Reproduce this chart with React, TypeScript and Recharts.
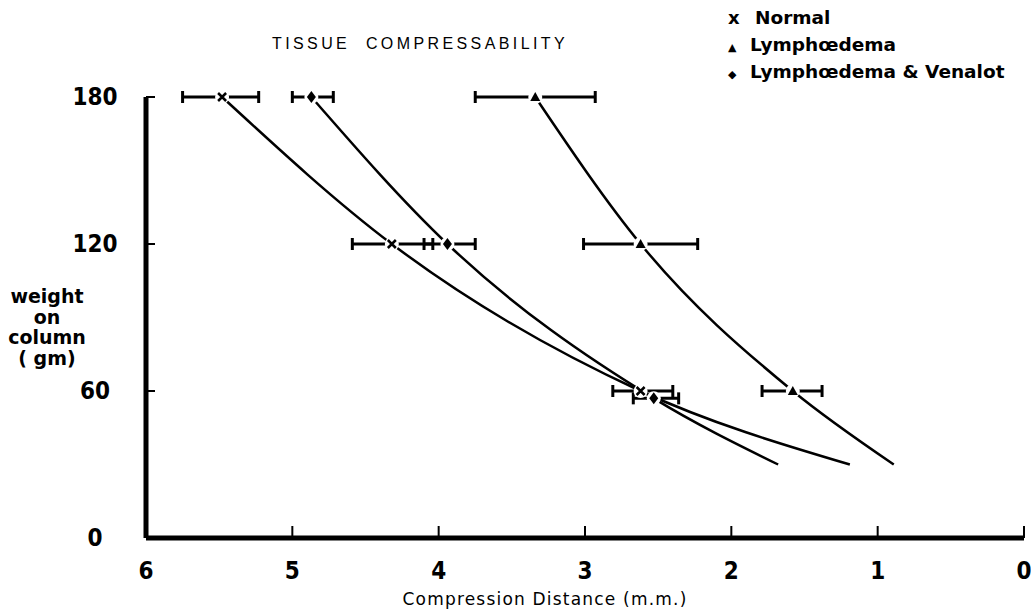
import React from 'react';
import { ComposedChart, Line, Scatter, XAxis, YAxis, ErrorBar } from 'recharts';

// weight on column (gm) for each reading
const weights = [180, 120, 60];
const venalotWeights = [180, 120, 57];

// compression distance (mm) and error bar extents [towards 0, towards 6]
const normalDist = [5.48, 4.32, 2.62];
const normalErr = [[0.25, 0.27], [0.28, 0.27], [0.22, 0.19]];
const lymphDist = [3.34, 2.62, 1.58];
const lymphErr = [[0.41, 0.41], [0.39, 0.39], [0.2, 0.21]];
const venalotDist = [4.87, 3.94, 2.53];
const venalotErr = [[0.15, 0.13], [0.19, 0.16], [0.17, 0.14]];

// where each fitted curve runs out below the last reading
const tailWeight = 30;
const normalTail = 1.19;
const lymphTail = 0.89;
const venalotTail = 1.68;

const xTicks = [6, 5, 4, 3, 2, 1, 0];
const yTicks = [0, 60, 120, 180];

const toPoints = (ds: number[], ws: number[], errs: number[][]) =>
  ds.map((d, i) => ({ d, w: ws[i], err: errs[i] }));

const normalPts = toPoints(normalDist, weights, normalErr);
const lymphPts = toPoints(lymphDist, weights, lymphErr);
const venalotPts = toPoints(venalotDist, venalotWeights, venalotErr);

const normalCurve = [...normalPts, { d: normalTail, w: tailWeight }];
const lymphCurve = [...lymphPts, { d: lymphTail, w: tailWeight }];
const venalotCurve = [...venalotPts, { d: venalotTail, w: tailWeight }];

const tickFont = "'Liberation Sans Narrow', 'DejaVu Sans Condensed', 'Liberation Sans', sans-serif";
const labelFont = "'DejaVu Sans', 'Liberation Sans', sans-serif";

const CrossMark = (props: any) => {
  const { cx, cy } = props;
  return (
    <g>
      <circle cx={cx} cy={cy} r={7} fill="#fff" />
      <path
        d={`M${cx - 4},${cy - 4}L${cx + 4},${cy + 4}M${cx + 4},${cy - 4}L${cx - 4},${cy + 4}`}
        stroke="#000"
        strokeWidth={2.5}
      />
    </g>
  );
};

const TriangleMark = (props: any) => {
  const { cx, cy } = props;
  return (
    <g>
      <circle cx={cx} cy={cy} r={7} fill="#fff" />
      <path d={`M${cx},${cy - 5}L${cx + 5},${cy + 4}L${cx - 5},${cy + 4}Z`} fill="#000" />
    </g>
  );
};

const DiamondMark = (props: any) => {
  const { cx, cy } = props;
  return (
    <g>
      <circle cx={cx} cy={cy} r={7} fill="#fff" />
      <path d={`M${cx},${cy - 6}L${cx + 4.5},${cy}L${cx},${cy + 6}L${cx - 4.5},${cy}Z`} fill="#000" />
    </g>
  );
};

const XTick = (props: any) => {
  const { x, y, payload } = props;
  return (
    <g>
      <line x1={x} x2={x} y1={y} y2={y - 12} stroke="#000" strokeWidth={2} />
      <text x={x} y={y + 41} textAnchor="middle" fontFamily={tickFont} fontWeight="bold" fontSize={24} fill="#000">
        {payload.value}
      </text>
    </g>
  );
};

const YTick = (props: any) => {
  const { x, y, payload } = props;
  return (
    <g>
      <line x1={x} x2={x + 9} y1={y} y2={y} stroke="#000" strokeWidth={2} />
      <text x={x - 51} y={y + 8} textAnchor="middle" fontFamily={tickFont} fontWeight="bold" fontSize={24} fill="#000">
        {payload.value}
      </text>
    </g>
  );
};

const legendRows = [
  { mark: 'x', label: 'Normal', gap: 27 },
  { mark: '▲', label: 'Lymphœdema', gap: 22 },
  { mark: '◆', label: 'Lymphœdema & Venalot', gap: 22 },
];

export default function App() {
  return (
    <div style={{ position: 'absolute', left: 0, top: 0, width: 1031, height: 609, background: '#fff' }}>
      <ComposedChart width={1031} height={609} margin={{ top: 97, right: 7, left: 86, bottom: 21 }}>
        <XAxis
          type="number"
          dataKey="d"
          domain={[0, 6]}
          reversed
          ticks={xTicks}
          interval={0}
          height={50}
          tickSize={0}
          tickMargin={0}
          tickLine={false}
          tick={XTick}
          axisLine={{ stroke: '#000', strokeWidth: 5 }}
        />
        <YAxis
          type="number"
          dataKey="w"
          domain={[0, 180]}
          ticks={yTicks}
          interval={0}
          width={60}
          tickSize={0}
          tickMargin={0}
          tickLine={false}
          tick={YTick}
          axisLine={{ stroke: '#000', strokeWidth: 5 }}
        />
        <Line data={normalCurve} dataKey="w" type="monotone" stroke="#000" strokeWidth={2.5} dot={false} isAnimationActive={false} />
        <Line data={lymphCurve} dataKey="w" type="monotone" stroke="#000" strokeWidth={2.5} dot={false} isAnimationActive={false} />
        <Line data={venalotCurve} dataKey="w" type="monotone" stroke="#000" strokeWidth={2.5} dot={false} isAnimationActive={false} />
        <Scatter data={normalPts} dataKey="w" shape={CrossMark} isAnimationActive={false}>
          <ErrorBar dataKey="err" direction="x" width={6} strokeWidth={3} stroke="#000" />
        </Scatter>
        <Scatter data={lymphPts} dataKey="w" shape={TriangleMark} isAnimationActive={false}>
          <ErrorBar dataKey="err" direction="x" width={6} strokeWidth={3} stroke="#000" />
        </Scatter>
        <Scatter data={venalotPts} dataKey="w" shape={DiamondMark} isAnimationActive={false}>
          <ErrorBar dataKey="err" direction="x" width={6} strokeWidth={3} stroke="#000" />
        </Scatter>
      </ComposedChart>

      <div
        style={{
          position: 'absolute',
          left: 272,
          top: 35,
          fontFamily: "'Liberation Sans', sans-serif",
          fontSize: 16,
          letterSpacing: 3.4,
          whiteSpace: 'pre',
          color: '#000',
        }}
      >
        {'TISSUE  COMPRESSABILITY'}
      </div>

      <div style={{ position: 'absolute', left: 728, top: 4, fontFamily: labelFont, fontWeight: 'bold', fontSize: 18.5, color: '#000' }}>
        {legendRows.map((r) => (
          <div key={r.label} style={{ height: 27, lineHeight: '27px', whiteSpace: 'nowrap' }}>
            <span style={{ display: 'inline-block', width: r.gap, fontSize: r.mark === 'x' ? 18 : 11 }}>{r.mark}</span>
            {r.label}
          </div>
        ))}
      </div>

      <div
        style={{
          position: 'absolute',
          left: 0,
          top: 286,
          width: 94,
          textAlign: 'center',
          fontFamily: labelFont,
          fontWeight: 'bold',
          fontSize: 19,
          lineHeight: '20.7px',
          color: '#000',
        }}
      >
        <div>weight</div>
        <div>on</div>
        <div>column</div>
        <div style={{ whiteSpace: 'pre' }}>{'( gm)'}</div>
      </div>

      <div
        style={{
          position: 'absolute',
          left: 295,
          width: 500,
          top: 589,
          textAlign: 'center',
          fontFamily: labelFont,
          fontSize: 17,
          letterSpacing: 1.2,
          color: '#000',
        }}
      >
        Compression Distance (m.m.)
      </div>
    </div>
  );
}
